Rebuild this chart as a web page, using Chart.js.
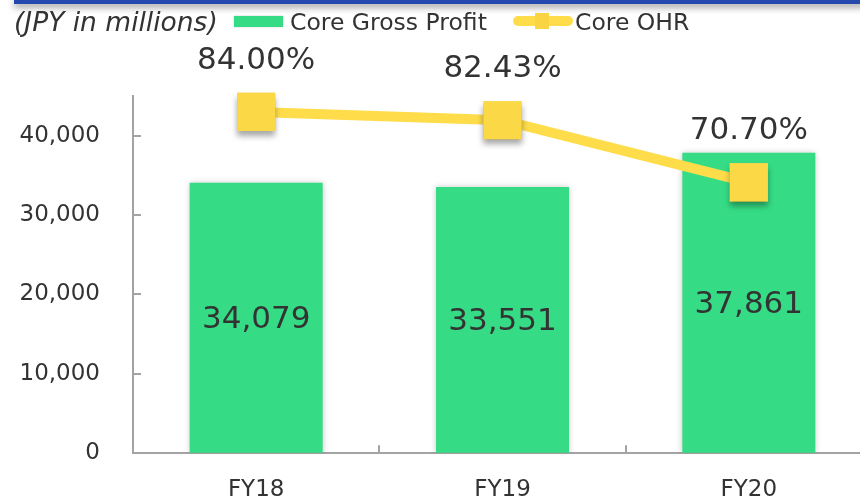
<!DOCTYPE html>
<html>
<head>
<meta charset="utf-8">
<script src="https://cdn.jsdelivr.net/npm/chart.js@4.4.0/dist/chart.umd.min.js"></script>
<style>
  html, body { margin: 0; padding: 0; background: #fff; }
  body { width: 860px; height: 500px; overflow: hidden; position: relative; font-family: 'DejaVu Sans', Verdana, sans-serif; color: #333; }
  #topbar { position: absolute; left: 14px; top: -1px; width: 860px; height: 5px; background: #2448ad; box-shadow: 0 3px 7px rgba(0,0,0,0.45); }
  .hdr { position: absolute; white-space: nowrap; line-height: 1; }
  #unit { left: 14px; top: 9px; font-size: 26.5px; font-style: italic; }
  #lgBox { position: absolute; left: 234px; top: 16px; width: 49px; height: 11px; background: #35dc85; box-shadow: 0 0 2px rgba(0,0,0,0.2); }
  #lgText1 { left: 290px; top: 11px; font-size: 23.5px; }
  #lgLine { position: absolute; left: 513px; top: 16px; width: 60px; height: 10px; border-radius: 5px; background: #ffdc4a; }
  #lgSq { position: absolute; left: 535px; top: 13px; width: 14px; height: 16px; background: #fbd444; }
  #lgText2 { left: 575px; top: 11px; font-size: 23.5px; }
  #wrap { position: absolute; left: 0; top: 0; width: 872px; height: 500px; }
</style>
</head>
<body>
<div id="wrap"><canvas id="chart" width="872" height="500"></canvas></div>
<div id="topbar"></div>
<div class="hdr" id="unit">(JPY in millions)</div>
<div id="lgBox"></div>
<div class="hdr" id="lgText1">Core Gross Profit</div>
<div id="lgLine"></div>
<div id="lgSq"></div>
<div class="hdr" id="lgText2">Core OHR</div>

<script>
// Données du graphique
const categories = ['FY18', 'FY19', 'FY20'];
const grossProfit = [34079, 33551, 37861]; // Core Gross Profit (JPY millions)
const coreOHR = [84.00, 82.43, 70.70];     // Core OHR (%)
const yTicks = [0, 10000, 20000, 30000, 40000];

const textColor = '#333333';
const axisColor = '#a3a3a3';

Chart.defaults.font.family = "'DejaVu Sans', Verdana, sans-serif";
Chart.defaults.color = textColor;

// Petits traits vers l'intérieur sur les axes
const innerTicks = {
  id: 'innerTicks',
  afterDraw(chart) {
    const ctx = chart.ctx;
    const x = chart.scales.x;
    const y = chart.scales.y;
    ctx.save();
    ctx.strokeStyle = axisColor;
    ctx.lineWidth = 2;
    ctx.beginPath();
    y.ticks.forEach(t => {
      if (t.value === 0) return;
      const py = Math.round(y.getPixelForValue(t.value));
      ctx.moveTo(x.left, py);
      ctx.lineTo(x.left + 8, py);
    });
    for (let i = 1; i < categories.length; i++) {
      const px = Math.round((x.getPixelForValue(i - 1) + x.getPixelForValue(i)) / 2);
      ctx.moveTo(px, y.bottom);
      ctx.lineTo(px, y.bottom - 8);
    }
    ctx.stroke();
    ctx.restore();
  }
};

// Ombres sur les barres et les points
const shadows = {
  id: 'shadows',
  beforeDatasetDraw(chart, args) {
    if (args.meta.type === 'bar') {
      const ctx = chart.ctx;
      ctx.save();
      ctx.shadowColor = 'rgba(0,0,0,0.22)';
      ctx.shadowBlur = 6;
    }
  },
  afterDatasetDraw(chart, args) {
    const ctx = chart.ctx;
    if (args.meta.type === 'bar') {
      ctx.restore();
    } else if (args.meta.type === 'line') {
      ctx.save();
      ctx.shadowColor = 'rgba(0,0,0,0.35)';
      ctx.shadowBlur = 6;
      ctx.shadowOffsetY = 5;
      args.meta.data.forEach(pt => pt.draw(ctx, chart.chartArea));
      ctx.restore();
    }
  }
};

// Étiquettes de valeurs
const valueLabels = {
  id: 'valueLabels',
  afterDatasetsDraw(chart) {
    const ctx = chart.ctx;
    ctx.save();
    ctx.fillStyle = textColor;
    ctx.font = "31px 'DejaVu Sans', Verdana, sans-serif";
    ctx.textAlign = 'center';
    ctx.textBaseline = 'middle';
    chart.data.datasets.forEach((ds, di) => {
      const meta = chart.getDatasetMeta(di);
      meta.data.forEach((el, i) => {
        if (meta.type === 'bar') {
          ctx.fillText(ds.data[i].toLocaleString('en-US'), el.x, (el.y + el.base) / 2 + 2);
        } else {
          ctx.fillText(ds.data[i].toFixed(2) + '%', el.x, el.y - 51);
        }
      });
    });
    ctx.restore();
  }
};

new Chart(document.getElementById('chart').getContext('2d'), {
  data: {
    labels: categories,
    datasets: [
      {
        type: 'line',
        label: 'Core OHR',
        data: coreOHR,
        yAxisID: 'y2',
        order: 0,
        borderColor: '#ffdc4a',
        borderWidth: 10,
        pointStyle: 'rect',
        pointRadius: 27,
        pointHoverRadius: 27,
        pointBackgroundColor: '#fbd846',
        pointBorderColor: '#fbd846',
        pointBorderWidth: 0,
        tension: 0,
        clip: false
      },
      {
        type: 'bar',
        label: 'Core Gross Profit',
        data: grossProfit,
        yAxisID: 'y',
        order: 1,
        backgroundColor: '#35dc85',
        barPercentage: 0.54,
        categoryPercentage: 1
      }
    ]
  },
  options: {
    responsive: false,
    animation: false,
    layout: { autoPadding: false, padding: { top: 96, right: 0, left: 0, bottom: 0 } },
    plugins: {
      legend: { display: false },
      tooltip: { enabled: false }
    },
    scales: {
      x: {
        grid: { drawOnChartArea: false, drawTicks: false },
        border: { color: axisColor, width: 2 },
        ticks: { padding: 23, font: { size: 23 }, color: textColor },
        afterFit: scale => {
          scale.height = 43;
          scale.paddingLeft = 0;
          scale.paddingRight = 0;
        }
      },
      y: {
        min: 0,
        max: 45000,
        grid: { drawOnChartArea: false, drawTicks: false },
        border: { color: axisColor, width: 2 },
        ticks: {
          padding: 33,
          font: { size: 23 },
          color: textColor,
          callback: v => v.toLocaleString('en-US')
        },
        afterBuildTicks: scale => { scale.ticks = yTicks.map(v => ({ value: v })); },
        afterFit: scale => { scale.width = 133; }
      },
      y2: {
        display: false,
        position: 'right',
        min: 19.6,
        max: 87
      }
    }
  },
  plugins: [innerTicks, shadows, valueLabels]
});
</script>
</body>
</html>
